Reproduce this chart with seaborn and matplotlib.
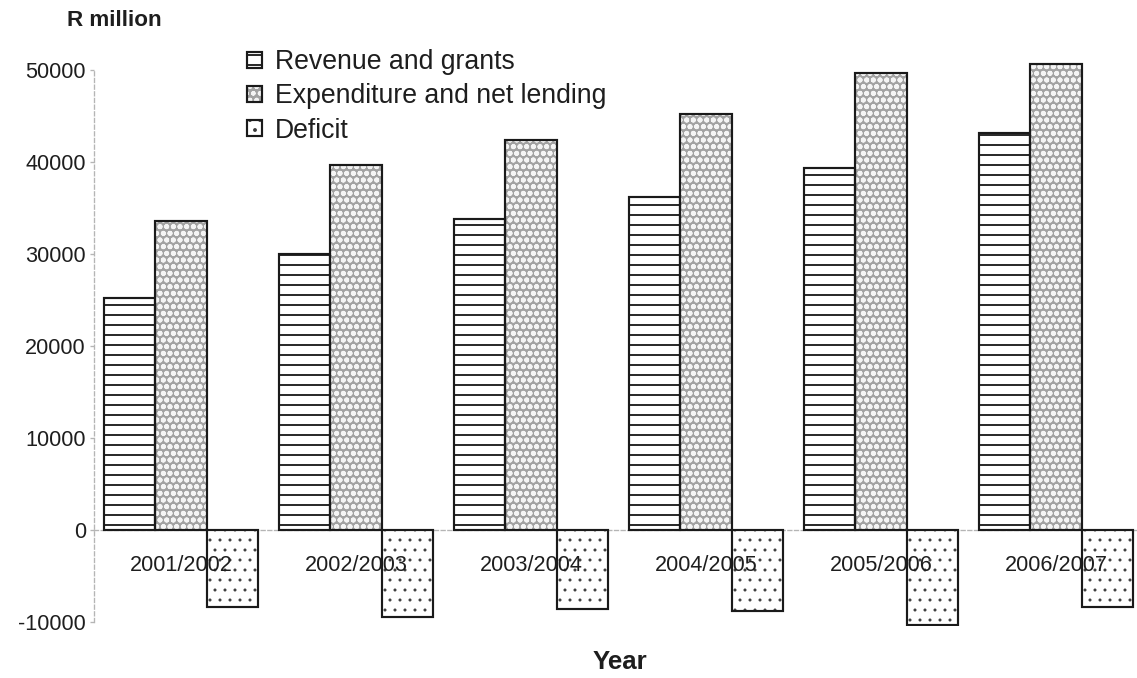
import matplotlib
matplotlib.use('Agg')
import matplotlib.patches as mpatches
import matplotlib.pyplot as plt
import pandas as pd
import seaborn as sns

years = ['2001/2002', '2002/2003', '2003/2004', '2004/2005', '2005/2006', '2006/2007']
revenue = [25200, 30000, 33800, 36200, 39300, 43200]
expenditure = [33600, 39700, 42400, 45200, 49700, 50700]
deficit = [-8400, -9500, -8600, -8800, -10300, -8400]
series_names = ['Revenue and grants', 'Expenditure and net lending', 'Deficit']

df = pd.DataFrame({
    'year': years * 3,
    'series': [name for name in series_names for _ in years],
    'value': revenue + expenditure + deficit,
})

sns.set_theme(style='white')
plt.rcParams['font.family'] = ['Liberation Sans', 'DejaVu Sans']
plt.rcParams['axes.unicode_minus'] = False
plt.rcParams['hatch.linewidth'] = 1.1

DPI = 120
W, H = 1137, 678
fig = plt.figure(figsize=(W / DPI, H / DPI), dpi=DPI)
# axes placed in pixel terms: 0 at y=530, 92 px per 10000
y_top, y_bot = 50900, -10400
px_top = 530 - y_top / 10000 * 92
px_bot = 530 - y_bot / 10000 * 92
ax = fig.add_axes([93.5 / W, (H - px_bot) / H, 1050 / W, (px_bot - px_top) / H])

faces = ['white', '#a2a2a2', 'white']
hatches = ['--', 'ooo', '..']
hatch_cols = ['#1a1a1a', '#f4f4f4', '#3a3a3a']
hatch_lws = [1.1, 1.4, 0.6]
edge = '#1a1a1a'

sns.barplot(df, x='year', y='value', hue='series', hue_order=series_names,
            palette=faces, width=0.875, gap=0, errorbar=None,
            legend=False, ax=ax, saturation=1)


def style_patch(p, hatch, hcol, hlw):
    p.set_hatch(hatch)
    p.set_edgecolor(hcol)
    p.set_linewidth(0)
    if hasattr(p, 'set_hatch_linewidth'):
        p.set_hatch_linewidth(hlw)


for cont, hatch, hcol, hlw in zip(ax.containers, hatches, hatch_cols, hatch_lws):
    for bar in cont:
        style_patch(bar, hatch, hcol, hlw)
        # black outline on top, hatch colour stays separate
        ax.add_patch(mpatches.Rectangle(bar.get_xy(), bar.get_width(), bar.get_height(),
                                        fill=False, ec=edge, lw=1.3))

ax.set_axisbelow(False)
ax.set_xlim(-0.5, len(years) - 0.5)
ax.set_ylim(y_bot, y_top)
ax.set_yticks(range(-10000, 50001, 10000))
ax.set_xlabel('')
ax.set_ylabel('')

for s in ['top', 'right']:
    ax.spines[s].set_visible(False)
ax.spines['bottom'].set_position(('data', 0))
ax.spines['left'].set_bounds(-10000, 50000)
for s in ['bottom', 'left']:
    ax.spines[s].set_linestyle((0, (3, 2)))
    ax.spines[s].set_color('#b5b5b5')
    ax.spines[s].set_linewidth(0.8)
    ax.spines[s].set_zorder(0.5)

ax.tick_params(axis='y', left=True, length=2.5, width=0.8, color='#b5b5b5',
               pad=2, labelsize=13, labelcolor='#1e1e1e')
ax.tick_params(axis='x', bottom=False, length=0, pad=15, labelsize=13,
               labelcolor='#1e1e1e')

handles = []
for face, hatch, hcol, hlw in zip(faces, hatches, hatch_cols, hatch_lws):
    fill = mpatches.Patch(facecolor=face)
    style_patch(fill, hatch, hcol, hlw)
    outline = mpatches.Patch(facecolor='none', edgecolor=edge, lw=1.3)
    handles.append((fill, outline))
ax.legend(handles, series_names, loc='upper left',
          bbox_to_anchor=(247 / W, 1 - 49 / H), bbox_transform=fig.transFigure,
          frameon=False, fontsize=16, handlelength=0.55, handleheight=0.55,
          handletextpad=0.5, labelspacing=0.31, borderpad=0, borderaxespad=0,
          labelcolor='#1e1e1e')

fig.text(114 / W, 1 - 20 / H, 'R million', ha='center', va='center',
         fontsize=13.4, fontweight='bold', color='#1e1e1e')
fig.text(620 / W, 1 - 662 / H, 'Year', ha='center', va='center',
         fontsize=15.5, fontweight='bold', color='#1e1e1e')

fig.savefig('out.png', dpi=DPI)
